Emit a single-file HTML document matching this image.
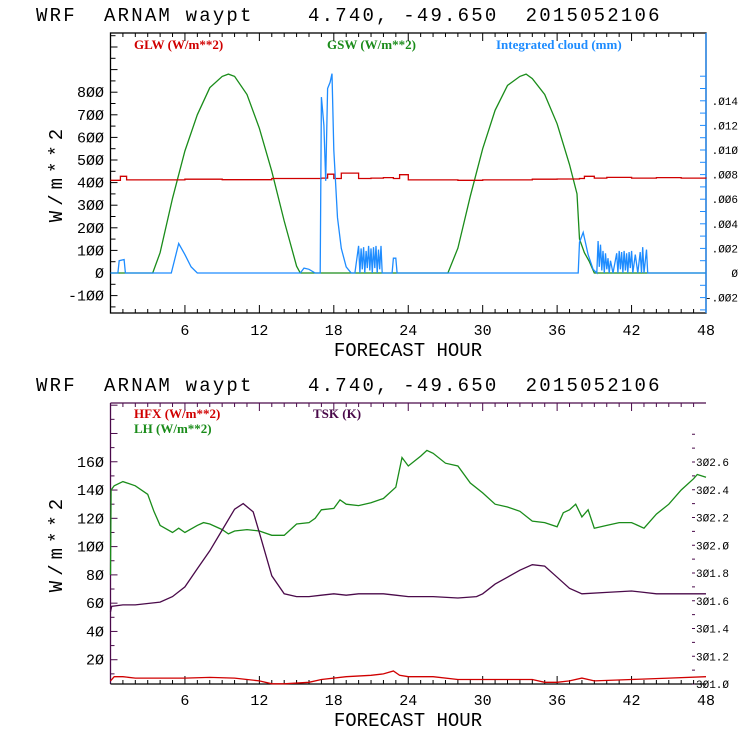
<!DOCTYPE html>
<html><head><meta charset="utf-8"><style>
html,body{margin:0;padding:0;background:#fff}
svg{display:block}
.t{font-family:"Liberation Mono",monospace;font-size:19px;fill:#000}
.tt{font-family:"Liberation Mono",monospace;font-size:19px;fill:#000;letter-spacing:2.2px}
.ya{font-family:"Liberation Mono",monospace;font-size:19px;fill:#000;letter-spacing:5px}
.tk{font-family:"Liberation Mono",monospace;font-size:15px;fill:#000}
.sm{font-family:"Liberation Mono",monospace;font-size:11px;fill:#000}
.lg{font-family:"Liberation Serif",serif;font-size:13px;font-weight:bold}
</style></head><body>
<svg id="s" width="740" height="740" viewBox="0 0 740 740" xmlns="http://www.w3.org/2000/svg">
<text class="tt" x="36" y="21" xml:space="preserve">WRF  ARNAM waypt    4.740, -49.650  2015052106</text>
<text class="tt" x="36" y="391" xml:space="preserve">WRF  ARNAM waypt    4.740, -49.650  2015052106</text>
<text class="lg" x="134" y="49" fill="#d00000">GLW (W/m**2)</text>
<text class="lg" x="327" y="49" fill="#1a8c1a">GSW (W/m**2)</text>
<text class="lg" x="496" y="49" fill="#1e8cff">Integrated cloud (mm)</text>
<text class="lg" x="134" y="418" fill="#d00000">HFX (W/m**2)</text>
<text class="lg" x="134" y="433" fill="#1a8c1a">LH  (W/m**2)</text>
<text class="lg" x="313" y="418" fill="#4a0a4a">TSK (K)</text>
<text class="t" x="408" y="356" text-anchor="middle">FORECAST HOUR</text>
<text class="t" x="408" y="726" text-anchor="middle">FORECAST HOUR</text>
<text class="ya" x="0" y="0" text-anchor="middle" transform="translate(62,173) rotate(-90)">W/m**2</text>
<text class="ya" x="0" y="0" text-anchor="middle" transform="translate(62,543) rotate(-90)">W/m**2</text>
</svg>
<script>
// ---- top chart data ----
const gswHours=[0,3.4,4,5,6,7,8,9,9.5,10,11,12,13,14,15,15.3,27.2,28,29,30,31,32,33,33.5,34,35,36,37,37.6,37.8,38.2,38.6,39,48];
const gswValues=[0,0,90,330,540,700,820,870,880,870,790,640,450,230,30,0,0,110,340,550,720,830,870,880,860,790,660,480,350,150,90,50,0,0];
const glwHours=[0,0.8,1.3,5,6,9,13,17,17.5,18,18.6,20,21,22,22.8,23.3,24,26,28,30,34,36,37.8,38.2,39,40,42,44,46,48];
const glwValues=[410,428,412,412,415,413,418,420,437,418,442,418,420,422,418,435,412,412,410,412,415,416,418,428,420,423,420,422,420,418];
const cloudHours=[0,0.6,0.7,1.1,1.2,4.9,5.5,6,6.5,7,15.3,15.6,16,16.5,16.9,17.0,17.2,17.35,17.5,17.7,17.85,18.0,18.3,18.6,19,19.4,19.7,20.0,20.1,20.2,20.3,20.4,20.5,20.6,20.7,20.8,20.9,21.0,21.1,21.2,21.3,21.4,21.5,21.6,21.7,21.8,21.9,22.7,22.8,23.0,23.1,37.7,37.8,38.1,38.5,38.9,39.2,39.3,39.4,39.5,39.6,39.7,39.8,39.9,40.0,40.1,40.2,40.3,40.5,40.8,40.9,41.0,41.1,41.2,41.3,41.4,41.5,41.6,41.7,41.8,41.9,42.0,42.1,42.3,42.5,42.7,42.8,42.9,43.0,43.2,43.3,43.6,48];
const cloudValues=[0,0,0.0010,0.0011,0,0,0.0024,0.0015,0.0005,0,0,0.0004,0.0003,0,0,0.0143,0.0120,0.0075,0.0150,0.0155,0.0162,0.0100,0.0045,0.0020,0.0005,0,0,0.0022,0,0.0020,0.0003,0.0021,0,0.0018,0.0004,0.0022,0.0002,0.0020,0,0.0021,0.0004,0.0022,0,0.0019,0.0003,0.0022,0,0,0.0012,0.0012,0,0,0.0025,0.0033,0.0015,0.0003,0,0.0026,0.0005,0.0023,0.0002,0.0018,0,0.0016,0.0003,0.0012,0,0.0010,0,0.0016,0,0.0018,0.0003,0.0017,0,0.0018,0.0002,0.0016,0,0.0017,0.0004,0.0018,0,0.0015,0,0.0017,0,0.0021,0,0.0019,0,0,0];
const topLeftTicks=[-100,0,100,200,300,400,500,600,700,800];
const topRightTicks=[-0.002,0,0.002,0.004,0.006,0.008,0.010,0.012,0.014];
const topRightLabels=["-.002","0",".002",".004",".006",".008",".010",".012",".014"];
const hourTicks=[6,12,18,24,30,36,42,48];
// ---- bottom chart data ----
const lhHours=[0,0.05,0.3,1,2,3,3.5,4,5,5.5,6,7,7.5,8,9,9.5,10,11,12,13,14,15,16,16.5,17,18,18.5,19,20,21,22,23,23.5,24,25,25.5,26,27,28,29,30,31,32,33,34,35,36,36.5,37,37.5,38,38.5,39,40,41,42,43,44,45,46,47,47.3,48];
const lhValues=[80,140,143,146,143,137,125,115,110,113,110,115,117,116,112,109,111,112,111,108,108,116,117,120,126,127,133,130,129,131,134,142,163,157,164,168,166,159,157,145,138,130,128,125,118,117,114,124,126,130,121,126,113,115,117,117,113,123,130,140,148,151,149];
const tskHours=[0,0.1,1,2,3,4,5,6,7,8,9,10,10.7,11.5,12,13,14,15,16,17,18,19,20,22,23,24,26,28,29.5,30,31,32,33,34,35,36,37,38,40,42,43,44,48];
const tskValues=[301.52,301.56,301.57,301.57,301.58,301.59,301.63,301.70,301.83,301.96,302.11,302.26,302.30,302.24,302.09,301.78,301.65,301.63,301.63,301.64,301.65,301.64,301.65,301.65,301.64,301.63,301.63,301.62,301.63,301.65,301.72,301.77,301.82,301.86,301.85,301.77,301.69,301.65,301.66,301.67,301.66,301.65,301.65];
const hfxHours=[0,0.3,1,2,6,8,10,12,13,14,16,17,19,21,22,22.8,23.3,24,26,28,30,34,35,36,37,38,39,42,45,48];
const hfxValues=[5,8,8,7,7,7.5,7,5,3,3,4,6,8,9,10,12,9,8,8,6,6,6,4,4,5,7,5,6,7,8];
const botLeftTicks=[20,40,60,80,100,120,140,160];
const botRightTicks=[301.0,301.2,301.4,301.6,301.8,302.0,302.2,302.4,302.6];

const NS="http://www.w3.org/2000/svg";
const svg=document.getElementById('s');
function mk(tag,attrs){const e=document.createElementNS(NS,tag);for(const k in attrs)e.setAttribute(k,attrs[k]);svg.appendChild(e);return e;}
const X0=110.5,X1=706;
const xs=h=>X0+(X1-X0)*h/48;
const yTop=v=>273-v*0.226;
const yCloud=v=>273-v/0.002*24.6;
const yBot=v=>688-v*1.414;
const yTsk=k=>684-(k-301.0)/1.6*222;

function line(hs,vs,ys,color,name,step){
  let d='';
  for(let i=0;i<hs.length;i++){
    const x=xs(hs[i]).toFixed(1),y=ys(vs[i]).toFixed(1);
    if(i===0)d+='M'+x+' '+y;else if(step)d+='H'+x+'V'+y;else d+='L'+x+' '+y;
  }
  const p=mk('path',{d:d,fill:'none',stroke:color,'stroke-width':1.3});
  
  
  return p;
}

const f1=mk('rect',{x:X0,y:33,width:X1-X0,height:280,fill:'none',stroke:'#000','stroke-width':1.3});


mk('line',{x1:X1,y1:33,x2:X1,y2:313,stroke:'#1e8cff','stroke-width':1.3});
for(let v=-150;v<=1050;v+=50){const y=yTop(v);if(y<34||y>312)continue;mk('line',{x1:X0,y1:y,x2:X0+(v%100===0?7:5),y2:y,stroke:'#000'});}
topLeftTicks.forEach(v=>{const t=mk('text',{x:104,y:yTop(v)+5,'text-anchor':'end',class:'tk'});t.textContent=String(v).replace(/0/g,'Ø');});
for(let v=-0.003;v<=0.017;v+=0.001){const y=yCloud(v);if(y<34||y>312)continue;mk('line',{x1:X1,y1:y,x2:X1-6,y2:y,stroke:'#1e8cff'});}
topRightTicks.forEach((v,i)=>{const t=mk('text',{x:738,y:yCloud(v)+4,'text-anchor':'end',class:'sm'});t.textContent=topRightLabels[i].replace(/0/g,'Ø');});
for(let h=1;h<48;h++){const x=xs(h);mk('line',{x1:x,y1:313,x2:x,y2:h%6===0?305:309,stroke:'#000'});mk('line',{x1:x,y1:33,x2:x,y2:h%6===0?41:37,stroke:'#000'});}
hourTicks.forEach(h=>{const t=mk('text',{x:xs(h),y:335,'text-anchor':'middle',class:'tk'});t.textContent=String(h);});
line(gswHours,gswValues,yTop,'#1a8c1a','gsw-line',false);
line(glwHours,glwValues,yTop,'#d00000','glw-line',true);
line(cloudHours,cloudValues,yCloud,'#1e8cff','cloud-line',false);

const P='#4a0a4a';
mk('line',{x1:X0,y1:403,x2:X1,y2:403,stroke:P,'stroke-width':1.3});
mk('line',{x1:X0,y1:403,x2:X0,y2:684,stroke:P,'stroke-width':1.3});
const bb=mk('line',{x1:X0,y1:684,x2:X1,y2:684,stroke:'#000','stroke-width':1.3});


for(let v=10;v<=200;v+=10){const y=yBot(v);if(y<404||y>683)continue;mk('line',{x1:X0,y1:y,x2:X0+(v%20===0?7:4),y2:y,stroke:P});}
botLeftTicks.forEach(v=>{const t=mk('text',{x:104,y:yBot(v)+5,'text-anchor':'end',class:'tk'});t.textContent=String(v).replace(/0/g,'Ø');});
for(let k=301.0;k<=302.85;k+=0.1){const y=yTsk(k);if(y<404)continue;mk('line',{x1:692,y1:y,x2:695,y2:y,stroke:P});}
botRightTicks.forEach(k=>{const t=mk('text',{x:696,y:yTsk(k)+4,class:'sm'});t.textContent=k.toFixed(1).replace(/0/g,'Ø');});
for(let h=1;h<48;h++){const x=xs(h);mk('line',{x1:x,y1:684,x2:x,y2:h%6===0?676:680,stroke:'#000'});mk('line',{x1:x,y1:403,x2:x,y2:h%6===0?411:407,stroke:P});}
hourTicks.forEach(h=>{const t=mk('text',{x:xs(h),y:705,'text-anchor':'middle',class:'tk'});t.textContent=String(h);});
line(lhHours,lhValues,yBot,'#1a8c1a','lh-line',false);
line(tskHours,tskValues,yTsk,P,'tsk-line',false);
line(hfxHours,hfxValues,yBot,'#d00000','hfx-line',false);
</script>
</body></html>
